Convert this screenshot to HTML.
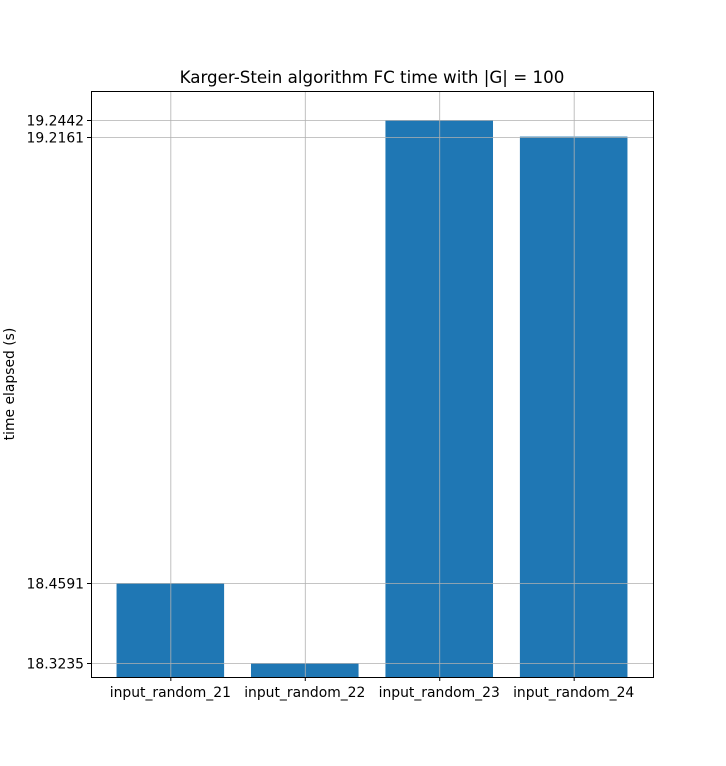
<!DOCTYPE html>
<html><head><meta charset="utf-8"><style>
body{margin:0;background:#fff;}
svg text{font-family:"DejaVu Sans","Liberation Sans",sans-serif;}
</style></head><body>
<svg id="chart" width="726" height="761" xmlns="http://www.w3.org/2000/svg">
<rect width="726" height="761" fill="#fff"/>
<text x="372" y="83" font-size="16.7" text-anchor="middle">Karger-Stein algorithm FC time with |G| = 100</text>
<text transform="translate(14,384) rotate(-90)" font-size="13.9" text-anchor="middle">time elapsed (s)</text>
<g id="bars"></g><g id="grid"></g><g id="ticks"></g>
<rect x="91.5" y="91.5" width="562" height="586" fill="none" stroke="#000" stroke-width="1"/>
</svg>
<script>
const categories=["input_random_21","input_random_22","input_random_23","input_random_24"];
const values=[18.4591,18.3235,19.2442,19.2161];
const yTicks=[18.3235,18.4591,19.2161,19.2442];
const yTickLabels=["18.3235","18.4591","19.2161","19.2442"];
const ns="http://www.w3.org/2000/svg";
const L=91,R=653,T=91,B=677;
const yMin=18.2998,yMax=19.2934,xMin=-0.59,xMax=3.59;
const y=v=>B-(v-yMin)/(yMax-yMin)*(B-T);
const x=v=>L+(v-xMin)/(xMax-xMin)*(R-L);
function mk(t,a,p){const e=document.createElementNS(ns,t);for(const k in a)e.setAttribute(k,a[k]);p.appendChild(e);return e;}
const gb=document.getElementById('bars'),gg=document.getElementById('grid'),gt=document.getElementById('ticks');
categories.forEach((c,i)=>{
 const x0=x(i-0.4),x1=x(i+0.4);
 const r=mk('rect',{x:x0,y:y(values[i]),width:x1-x0,height:B-y(values[i]),fill:'#1f77b4'},gb);
 
 
 const gl=mk('line',{x1:x(i)+0.5,x2:x(i)+0.5,y1:T,y2:B,stroke:'#b0b0b0','stroke-width':0.8},gg);
 
 
 const tk=mk('line',{x1:x(i)+0.5,x2:x(i)+0.5,y1:B,y2:B+4,stroke:'#000'},gt);
 
 
 const t=mk('text',{x:x(i),y:B+20,'font-size':13.9,'text-anchor':'middle'},gt);
 t.textContent=c;
 
 
});
yTicks.forEach((v,i)=>{
 const yy=Math.round(y(v))+0.5;
 const gl=mk('line',{x1:L,x2:R,y1:yy,y2:yy,stroke:'#b0b0b0','stroke-width':0.8},gg);
 
 
 const tk=mk('line',{x1:L-4,x2:L,y1:yy,y2:yy,stroke:'#000'},gt);
 
 
 const t=mk('text',{x:L-7,y:yy+5,'font-size':13.9,'text-anchor':'end'},gt);
 t.textContent=yTickLabels[i];
 
 
});
</script>
</body></html>
